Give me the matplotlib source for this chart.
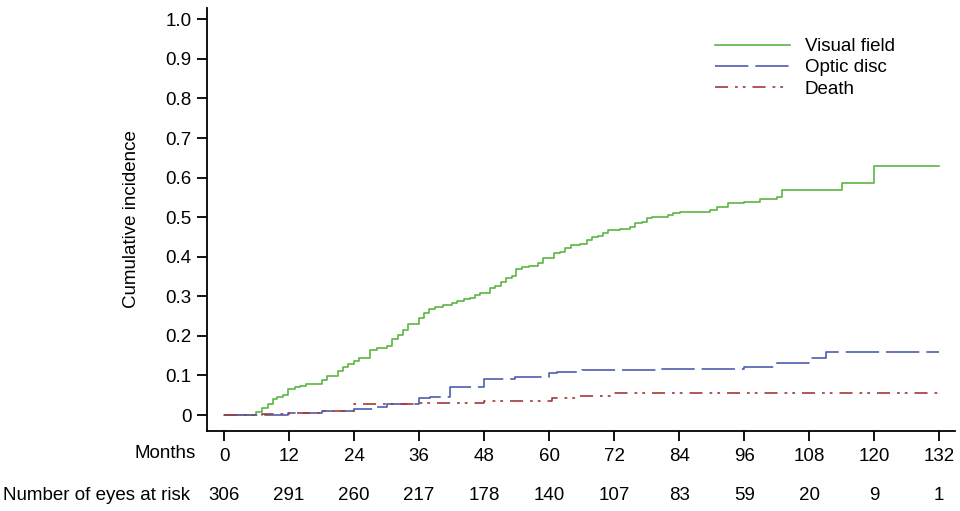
import matplotlib
matplotlib.use("Agg")
import matplotlib.pyplot as plt
from matplotlib.transforms import blended_transform_factory

plt.rcParams['font.family'] = ['Liberation Sans', 'DejaVu Sans']
plt.rcParams['lines.scale_dashes'] = False

# ---- data ----
vf_months = [0, 5.9, 7.0, 8.2, 9.0, 9.8, 10.9, 11.9, 13.1, 14.0, 15.1, 18.0, 19.0, 21.1, 22.0,
             22.9, 24.0, 25.0, 27.0, 28.2, 30.0, 31.0, 32.2, 33.1, 34.0, 35.9, 36.9, 37.9, 39.0,
             40.5, 42.0, 43.0, 44.2, 45.4, 46.3, 47.3, 49.0, 50.0, 51.1, 52.1, 53.1, 53.9, 55.0,
             56.2, 58.0, 58.9, 60.9, 62.0, 62.9, 64.0, 65.7, 67.0, 67.9, 69.1, 70.0, 70.9, 73.1,
             75.0, 75.9, 77.1, 78.0, 79.0, 82.0, 82.9, 84.2, 89.7, 90.9, 93.1, 95.9, 98.9, 102.0,
             103.0, 114.0, 119.9, 132.0]
vf_values = [0, 0.008, 0.017, 0.028, 0.040, 0.046, 0.050, 0.065, 0.070, 0.074, 0.078, 0.088, 0.099,
             0.110, 0.122, 0.130, 0.137, 0.143, 0.164, 0.170, 0.175, 0.191, 0.202, 0.215, 0.230,
             0.244, 0.257, 0.267, 0.274, 0.278, 0.282, 0.288, 0.292, 0.296, 0.303, 0.309, 0.322,
             0.326, 0.337, 0.347, 0.351, 0.368, 0.373, 0.377, 0.383, 0.398, 0.409, 0.413, 0.421,
             0.430, 0.432, 0.442, 0.449, 0.452, 0.461, 0.468, 0.470, 0.476, 0.484, 0.489, 0.497,
             0.501, 0.505, 0.510, 0.514, 0.518, 0.526, 0.535, 0.539, 0.545, 0.552, 0.569, 0.586,
             0.630, 0.630]

od_months = [0, 11.8, 18.0, 23.9, 28.2, 30.0, 35.9, 38.0, 41.7, 47.9, 53.7, 59.9, 61.4, 66.0,
             80.5, 95.9, 102.0, 108.0, 111.1, 132.0]
od_values = [0, 0.006, 0.010, 0.015, 0.020, 0.029, 0.042, 0.046, 0.072, 0.090, 0.097, 0.107,
             0.109, 0.114, 0.116, 0.122, 0.131, 0.143, 0.158, 0.158]

death_months = [0, 7.0, 12.0, 18.0, 23.9, 36.0, 47.9, 60.5, 65.7, 71.9, 132.0]
death_values = [0, 0.003, 0.006, 0.010, 0.028, 0.030, 0.036, 0.042, 0.049, 0.055, 0.055]

series_labels = ["Visual field", "Optic disc", "Death"]

x_ticks = [0, 12, 24, 36, 48, 60, 72, 84, 96, 108, 120, 132]
at_risk = [306, 291, 260, 217, 178, 140, 107, 83, 59, 20, 9, 1]
y_ticks = [0, 0.1, 0.2, 0.3, 0.4, 0.5, 0.6, 0.7, 0.8, 0.9, 1.0]
y_tick_labels = ["0", "0.1", "0.2", "0.3", "0.4", "0.5", "0.6", "0.7", "0.8", "0.9", "1.0"]

# ---- figure ----
W, H = 960, 511
fig = plt.figure(figsize=(W / 100, H / 100), dpi=100)
ax = fig.add_axes([207 / W, (H - 431) / H, (955 - 207) / W, (431 - 8) / H])

FS = 13.5
green = '#5db543'
blue = '#4b5fae'
red = '#a33a3a'

ax.step(vf_months, vf_values, where='post', color=green, lw=1.2, label=series_labels[0])
ax.step(od_months, od_values, where='post', color=blue, lw=1.2, dashes=(24, 5), label=series_labels[1])
ax.step(death_months, death_values, where='post', color=red, lw=1.2,
        dashes=(9.4, 5, 2.0, 3.6, 2.0, 5), label=series_labels[2])

ax.set_xlim(-3.14, 134.9)
ax.set_ylim(-0.0404, 1.0286)

for s in ['top', 'right']:
    ax.spines[s].set_visible(False)
for s in ['left', 'bottom']:
    ax.spines[s].set_linewidth(1.3)
    ax.spines[s].set_color('black')

ax.set_xticks(x_ticks)
ax.set_xticklabels([str(t) for t in x_ticks])
ax.set_yticks(y_ticks)
ax.set_yticklabels(y_tick_labels)
ax.tick_params(axis='both', direction='out', length=7, width=1.3, labelsize=FS, colors='black')
ax.tick_params(axis='y', pad=4)
ax.tick_params(axis='x', pad=5)

ax.set_ylabel("Cumulative incidence", fontsize=FS, labelpad=18)

fig.text(196 / W, 1 - 453 / H, "Months", ha='right', va='center', fontsize=FS)
fig.text(3 / W, 1 - 495 / H, "Number of eyes at risk", ha='left', va='center', fontsize=FS)

trans = blended_transform_factory(ax.transData, fig.transFigure)
for t, n in zip(x_ticks, at_risk):
    ax.text(t, 1 - 495 / H, str(n), transform=trans, ha='center', va='center', fontsize=FS)

leg = ax.legend(loc='upper left', bbox_to_anchor=(715 / W, 1 - 38 / H),
                bbox_transform=fig.transFigure, frameon=False, fontsize=FS,
                handlelength=4.0, handletextpad=0.8, labelspacing=0.22, borderpad=0,
                borderaxespad=0)

fig.savefig("out.png", dpi=100)
